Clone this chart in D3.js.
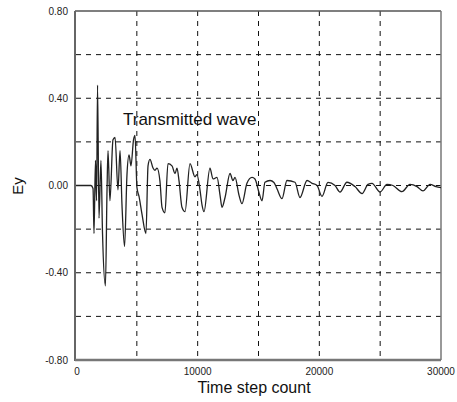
<!DOCTYPE html>
<html lang="en">
<head>
<meta charset="UTF-8">
<title>Transmitted wave</title>
<script src="https://d3js.org/d3.v7.min.js"></script>
<style>
  body { margin: 0; background: #fff; }
  svg { display: block; }
</style>
</head>
<body>
<svg id="chart" width="457" height="402"></svg>
<script>
// values
const steps = [0, 1230, 1400, 1480, 1600, 1690, 1770, 1890, 2050, 2180, 2420, 2550, 2630, 2790,
  3040, 3210, 3450, 3620, 3780, 3990, 4190, 4360, 4520, 4730, 4850, 5010, 5180, 5420, 5750,
  5920, 6080, 6330, 6490, 6660, 6900, 7070, 7310, 7560, 7890, 8140, 8300, 8470, 8710, 8960,
  9370, 9780, 9940, 10190, 10360, 10520, 11010, 11260, 11590, 11840, 12000, 12250, 12660,
  12900, 13070, 13400, 13640, 14050, 14470, 14710, 15040, 15290, 15530, 15950, 16270, 16520,
  16930, 17340, 18000, 18410, 18990, 19400, 19810, 20220, 20710, 21290, 21700, 22270, 22930,
  23510, 24000, 24330, 24990, 25560, 26050, 26790, 27450, 28030, 28520, 29100, 29590, 30000];
const ey = [0, 0, -0.014, -0.22, 0.115, -0.07, 0.46, -0.15, 0.115, -0.22, -0.46, -0.02, 0.16, -0.07,
  0.21, 0.22, -0.02, 0.16, -0.09, -0.28, 0.05, 0.14, 0.09, 0.21, 0.23, -0.01, -0.05, -0.13, -0.22,
  0.09, 0.12, 0.08, 0.07, 0.08, 0.02, -0.10, -0.125, 0.10, 0.09, 0.055, 0.08, 0.02, -0.10, -0.12,
  0.10, 0.04, 0.05, -0.02, -0.09, -0.12, 0.08, 0.03, 0.037, -0.045, -0.10, -0.055, 0.055,
  0.023, 0.037, -0.045, -0.083, 0.01, 0.037, 0.03, -0.032, -0.07, 0.015, 0.023, 0.014, -0.015,
  -0.06, 0.023, 0.015, -0.055, 0.023, 0.01, 0, -0.05, 0.014, 0, -0.03, 0.015, -0.005,
  -0.037, 0.005, 0.01, -0.03, 0.005, 0, -0.028, 0.005, -0.005, -0.025, 0.005, -0.005, -0.01];

const xTicks = [0, 10000, 20000, 30000];
const xTickLabels = ["0", "10000", "20000", "30000"];
const yTicks = [0.8, 0.4, 0, -0.4, -0.8];
const yTickLabels = ["0.80", "0.40", "0.00", "-0.40", "-0.80"];
const xGrid = [5000, 10000, 15000, 20000, 25000];
const yGrid = [0.6, 0.4, 0.2, 0, -0.2, -0.4, -0.6];

const svg = d3.select("#chart");
const pl = 76, pr = 441, pt = 11, pb = 360;

const x = d3.scaleLinear().domain([0, 30000]).range([pl, pr]);
const y = d3.scaleLinear().domain([-0.8, 0.8]).range([pb, pt]);

// dashed grid
const grid = svg.append("g")
  .attr("stroke", "#111")
  .attr("stroke-width", 1)
  .attr("stroke-dasharray", "5,5");
grid.selectAll("line.v").data(xGrid).join("line")
  .attr("class", "v")
  .attr("x1", d => x(d)).attr("x2", d => x(d))
  .attr("y1", pt).attr("y2", pb);
grid.selectAll("line.h").data(yGrid).join("line")
  .attr("class", "h")
  .attr("x1", pl).attr("x2", pr)
  .attr("y1", d => y(d)).attr("y2", d => y(d));

// frame
svg.append("line").attr("x1", pl - 1).attr("x2", pr).attr("y1", pt).attr("y2", pt)
  .attr("stroke", "#555").attr("stroke-width", 1.5);
svg.append("line").attr("x1", pr).attr("x2", pr).attr("y1", pt).attr("y2", pb)
  .attr("stroke", "#777").attr("stroke-width", 1.5);
svg.append("line").attr("x1", pl - 1).attr("x2", pl - 1).attr("y1", pt).attr("y2", pb + 1)
  .attr("stroke", "#666").attr("stroke-width", 2);
svg.append("line").attr("x1", pl - 1).attr("x2", pr).attr("y1", pb).attr("y2", pb)
  .attr("stroke", "#777").attr("stroke-width", 2.5);

// the wave
const line = d3.line()
  .x((d, i) => x(steps[i]))
  .y(d => y(d))
  .curve(d3.curveMonotoneX);
svg.append("path")
  .datum(ey)
  .attr("d", line)
  .attr("fill", "none")
  .attr("stroke", "#222")
  .attr("stroke-width", 1.3)
  .attr("stroke-linejoin", "round");

// tick labels
svg.append("g").selectAll("text").data(yTicks).join("text")
  .attr("x", pl - 8)
  .attr("y", d => y(d) + 3.5)
  .attr("text-anchor", "end")
  .attr("font-family", "Liberation Sans, Arial, sans-serif")
  .attr("font-size", 10)
  .attr("fill", "#222")
  .text((d, i) => yTickLabels[i]);

svg.append("g").selectAll("text").data(xTicks).join("text")
  .attr("x", d => x(d) + (d === 0 ? 1 : 0))
  .attr("y", pb + 15)
  .attr("text-anchor", "middle")
  .attr("font-family", "Liberation Sans, Arial, sans-serif")
  .attr("font-size", 10)
  .attr("fill", "#222")
  .text((d, i) => xTickLabels[i]);

// axis titles
svg.append("text")
  .attr("x", 254).attr("y", 393)
  .attr("text-anchor", "middle")
  .attr("font-family", "Liberation Sans, Arial, sans-serif")
  .attr("font-size", 16)
  .attr("fill", "#111")
  .text("Time step count");

svg.append("text")
  .attr("transform", "translate(23,186) rotate(-90)")
  .attr("text-anchor", "middle")
  .attr("font-family", "Liberation Sans, Arial, sans-serif")
  .attr("font-size", 15)
  .attr("fill", "#111")
  .text("Ey");

// annotation
svg.append("text")
  .attr("x", 123).attr("y", 125)
  .attr("font-family", "Liberation Sans, Arial, sans-serif")
  .attr("font-size", 17)
  .attr("fill", "#111")
  .text("Transmitted wave");
</script>
</body>
</html>
